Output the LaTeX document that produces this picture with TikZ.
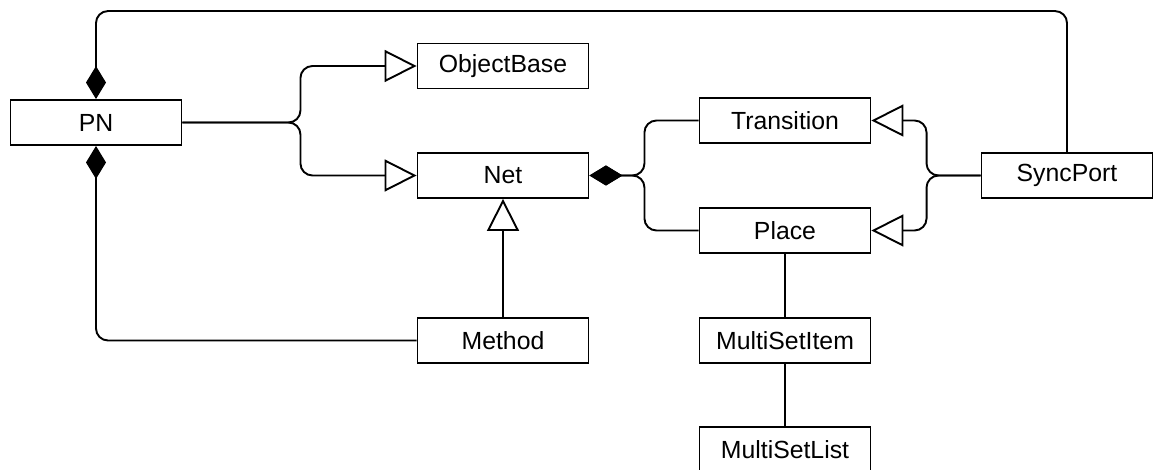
\documentclass[tikz,border=0pt]{standalone}
\usepackage{fontspec}
\setmainfont{Liberation Sans}
\usetikzlibrary{arrows.meta}
\begin{document}
\begin{tikzpicture}[x=1pt,y=-1pt,
  cls/.style={draw=black, line width=1.9pt, fill=white, rectangle,
    minimum width=171pt, minimum height=45pt, inner sep=0pt,
    font=\fontsize{24.8}{30}\selectfont},
  conn/.style={draw=black, line width=1.9pt, rounded corners=12pt},
  gen/.style={conn, -{Triangle[open, length=32pt, width=32pt, line width=1.9pt]}},
  comp/.style={conn, {Diamond[length=33pt, width=20pt]}-},
  compend/.style={conn, -{Diamond[length=33pt, width=20pt]}}]
\useasboundingbox (0,0) rectangle (1156,470);

% classes
\node[cls] (PN)           at (96,122.5)   {PN};
\node[cls] (ObjectBase)   at (503,66)     {ObjectBase};
\node[cls] (Net)          at (503,175.5)  {Net};
\node[cls] (Transition)   at (785,120.5)  {Transition};
\node[cls] (Place)        at (785,230.5)  {Place};
\node[cls] (SyncPort)     at (1067,175.5) {SyncPort};
\node[cls] (Method)       at (503,340.5)  {Method};
\node[cls] (MultiSetItem) at (785,340.5)  {MultiSetItem};
\node[cls] (MultiSetList) at (785,449.5)  {MultiSetList};

% generalisations of PN
\draw[gen] (PN.east) -- ++(118,0) |- (ObjectBase.west);
\draw[gen] (PN.east) -- ++(118,0) |- (Net.west);

% Net is composed of transitions and places
\draw[comp] (Net.east) -- ++(55,0) |- (Transition.west);
\draw[comp] (Net.east) -- ++(55,0) |- (Place.west);

% SyncPort specialises Transition and Place
\draw[gen] (SyncPort.west) -- ++(-54,0) |- (Transition.east);
\draw[gen] (SyncPort.west) -- ++(-54,0) |- (Place.east);

% Method specialises Net
\draw[gen] (Method.north) -- (Net.south);

% PN owns methods and sync ports
\draw[compend] (Method.west) -| (PN.south);
\draw[compend] (SyncPort.north) -- ++(0,-141) -| (PN.north);

% place markings
\draw[conn] (Place.south) -- (MultiSetItem.north);
\draw[conn] (MultiSetItem.south) -- (MultiSetList.north);
\end{tikzpicture}
\end{document}
